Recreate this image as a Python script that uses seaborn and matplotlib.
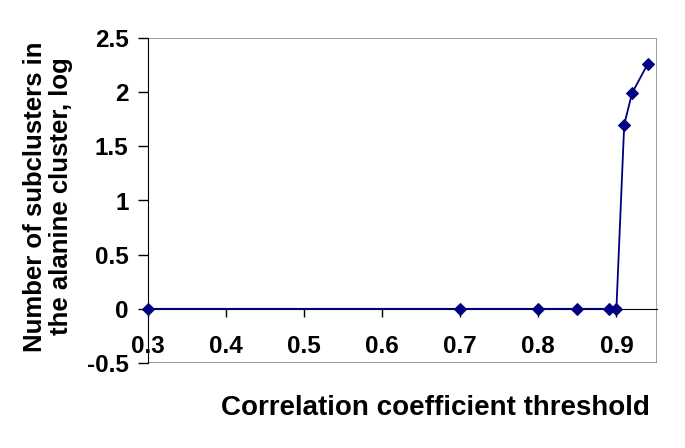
import numpy as np
import pandas as pd
import matplotlib
matplotlib.use('Agg')
import matplotlib.pyplot as plt
from matplotlib.patches import Rectangle
import seaborn as sns

# data
threshold = [0.3, 0.7, 0.8, 0.85, 0.89, 0.90, 0.91, 0.92, 0.94]
log_subclusters = [0, 0, 0, 0, 0, 0, 1.70, 1.99, 2.26]
xticks = [0.3, 0.4, 0.5, 0.6, 0.7, 0.8, 0.9]
yticks = [-0.5, 0, 0.5, 1, 1.5, 2, 2.5]

df = pd.DataFrame({'threshold': threshold, 'value': log_subclusters})

sns.set_style('white')
plt.rcParams['font.family'] = ['Liberation Sans', 'DejaVu Sans']
plt.rcParams['font.weight'] = 'bold'
plt.rcParams['text.color'] = 'black'
plt.rcParams['axes.labelcolor'] = 'black'
plt.rcParams['xtick.color'] = 'black'
plt.rcParams['ytick.color'] = 'black'

# plot area in pixels: x 148..657, y 38..363
fig = plt.figure(figsize=(6.85, 4.48), dpi=100)
ax = fig.add_axes([148 / 685, 85 / 448, 509 / 685, 325 / 448])

sns.lineplot(data=df, x='threshold', y='value', ax=ax, color='#000080',
             marker='D', markersize=6, markeredgecolor='#000080',
             linewidth=1.3, clip_on=False, zorder=5)

ax.set_xlim(0.3, 0.952)
ax.set_ylim(-0.5, 2.5)
ax.set_xticks(xticks)
ax.set_xticklabels([f'{t:g}' for t in xticks])
ax.set_yticks(yticks)
ax.set_yticklabels([f'{t:g}' for t in yticks])

# excel style: x axis crosses at 0, grey frame around plot area
ax.spines['bottom'].set_position(('data', 0))
ax.spines['bottom'].set_color('black')
ax.spines['left'].set_color('black')
ax.spines['top'].set_visible(False)
ax.spines['right'].set_visible(False)
ax.add_patch(Rectangle((0, 0), 1, 1, transform=ax.transAxes, fill=False,
                       edgecolor='#8c8c8c', linewidth=1.2, zorder=0))

ax.tick_params(axis='x', direction='out', length=6, width=1, pad=12.5,
               labelsize=17.5, bottom=True)
ax.tick_params(axis='y', direction='out', length=7, width=1, pad=7,
               labelsize=17.5, left=True)
for lab in ax.get_xticklabels() + ax.get_yticklabels():
    lab.set_fontweight('bold')

ax.set_xlabel('Correlation coefficient threshold', fontsize=20, fontweight='bold',
              va='center', ha='center')
ax.xaxis.set_label_coords(287 / 509, -45 / 325)
ax.set_ylabel('Number of subclusters in\nthe alanine cluster, log', fontsize=18.5,
              fontweight='bold', va='center', ha='center', linespacing=1.1)
ax.yaxis.set_label_coords(-100 / 509, 166.5 / 325)

fig.savefig('out.png', dpi=100)
